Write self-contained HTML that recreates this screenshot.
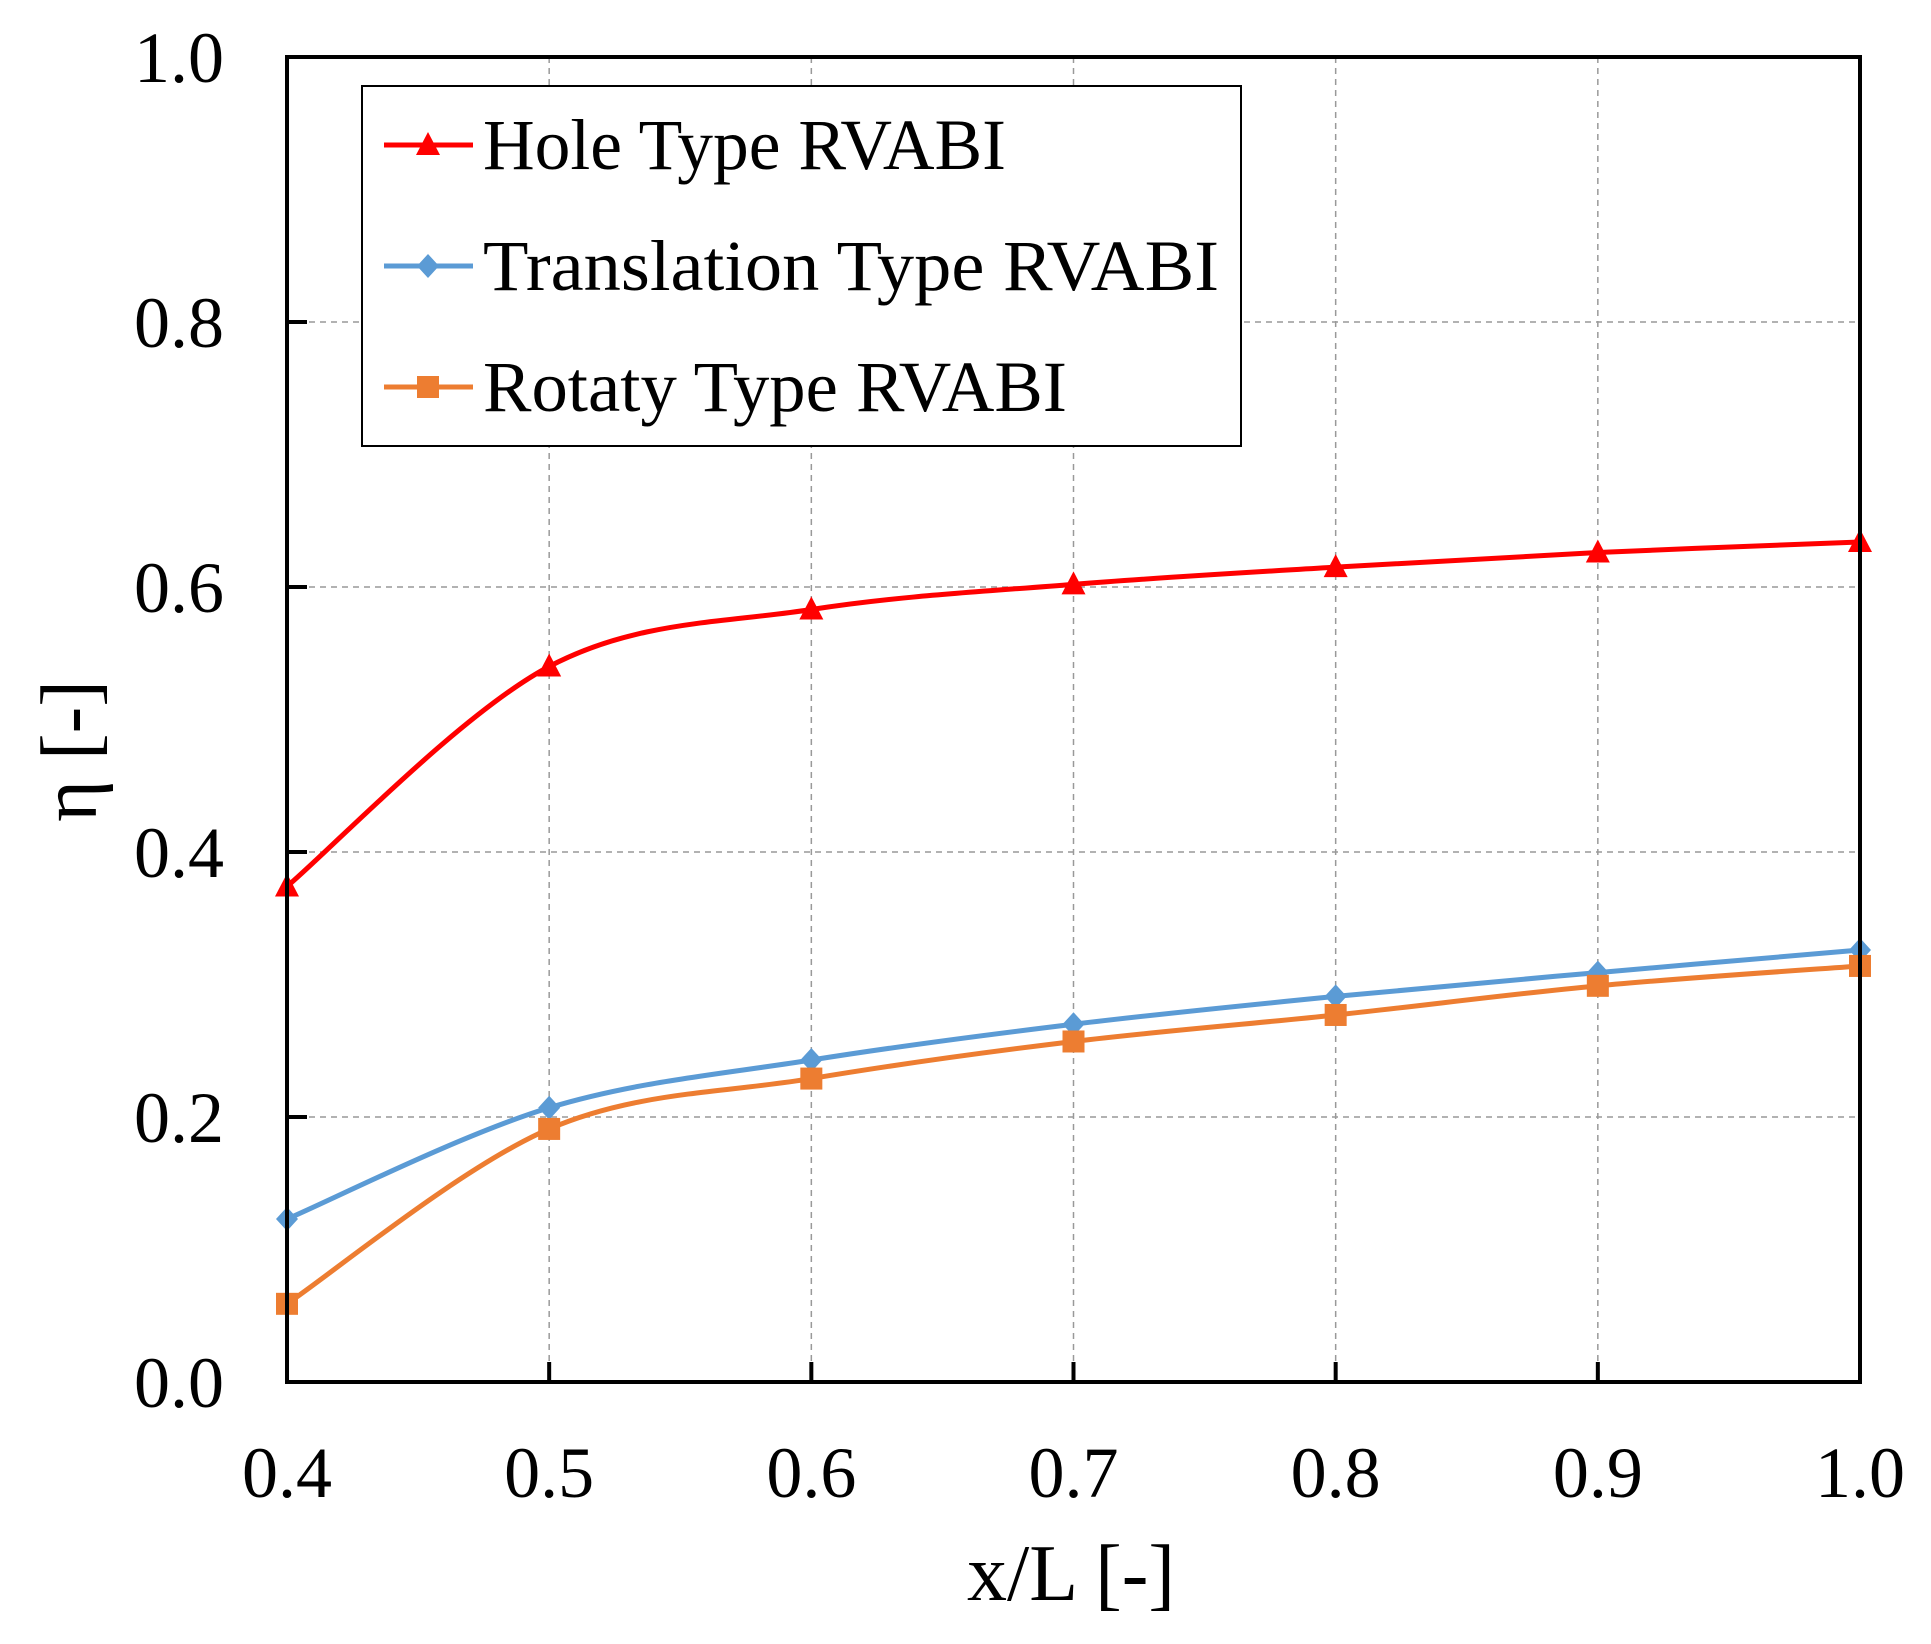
<!DOCTYPE html>
<html><head><meta charset="utf-8"><style>
html,body{margin:0;padding:0;background:#fff}
svg{display:block}
</style></head><body>
<svg id="chart" width="1931" height="1644" xmlns="http://www.w3.org/2000/svg">
<g id="grid"></g>
<g id="series"></g>
<rect x="287" y="57" width="1573" height="1325" fill="none" stroke="#000" stroke-width="4"/>
<g id="ticks"></g>
<text x="1071" y="1600" font-family="Liberation Serif, serif" font-size="80" text-anchor="middle">x/L [-]</text>
<text transform="translate(96,751) rotate(-90)" font-family="Liberation Serif, serif" font-size="80" text-anchor="middle">η [-]</text>
<g>
<rect x="362" y="86" width="879" height="360" fill="#fff" stroke="#000" stroke-width="2"/>
<g id="legend-items"></g>
</g>
</svg>
<script>
const xTicks = [0.4,0.5,0.6,0.7,0.8,0.9,1.0];
const xTickLabels = ["0.4","0.5","0.6","0.7","0.8","0.9","1.0"];
const yTicks = [0,0.2,0.4,0.6,0.8,1.0];
const yTickLabels = ["0.0","0.2","0.4","0.6","0.8","1.0"];
const xValues = [0.4,0.5,0.6,0.7,0.8,0.9,1.0];
const holeValues = [0.374,0.540,0.583,0.602,0.615,0.626,0.634];
const translationValues = [0.123,0.207,0.243,0.270,0.291,0.309,0.326];
const rotatyValues = [0.059,0.191,0.229,0.257,0.277,0.299,0.314];
const seriesNames = ["Hole Type RVABI","Translation Type RVABI","Rotaty Type RVABI"];

const NS="http://www.w3.org/2000/svg";
const L=287,R=1860,T=57,B=1382;
function sx(v){return L+(v-0.4)/(0.6)*(R-L);}
function sy(v){return B-v*(B-T);}
function mk(tag,attrs,parent){const e=document.createElementNS(NS,tag);for(const k in attrs)e.setAttribute(k,attrs[k]);parent.appendChild(e);return e;}
const grid=document.getElementById('grid'),ticks=document.getElementById('ticks'),ser=document.getElementById('series');
xTicks.forEach((v,i)=>{
  const x=sx(v);
  if(i>0&&i<xTicks.length-1){
    const g=mk('line',{x1:x,x2:x,y1:T,y2:B,stroke:'#999','stroke-width':1.5,'stroke-dasharray':'6,5'},grid);
    
    
  }
  const t=mk('line',{x1:x,x2:x,y1:B,y2:B-20,stroke:'#000','stroke-width':4},ticks);
  
  
  const lb=mk('text',{x:x,y:1497,'font-family':'Liberation Serif, serif','font-size':72,'text-anchor':'middle'},ticks);
  lb.textContent=xTickLabels[i];
  
  
});
yTicks.forEach((v,i)=>{
  const y=sy(v);
  if(i>0&&i<yTicks.length-1){
    const g=mk('line',{x1:L,x2:R,y1:y,y2:y,stroke:'#999','stroke-width':1.5,'stroke-dasharray':'6,5'},grid);
    
    
  }
  const t=mk('line',{x1:L,x2:L+20,y1:y,y2:y,stroke:'#000','stroke-width':4},ticks);
  
  
  const lb=mk('text',{x:224,y:y+25,'font-family':'Liberation Serif, serif','font-size':72,'text-anchor':'end'},ticks);
  lb.textContent=yTickLabels[i];
  
  
});
function spline(pts){
  let d=`M${pts[0][0]},${pts[0][1]}`;
  for(let i=0;i<pts.length-1;i++){
    const p0=pts[Math.max(0,i-1)],p1=pts[i],p2=pts[i+1],p3=pts[Math.min(pts.length-1,i+2)];
    const c1=[p1[0]+(p2[0]-p0[0])/6,p1[1]+(p2[1]-p0[1])/6];
    const c2=[p2[0]-(p3[0]-p1[0])/6,p2[1]-(p3[1]-p1[1])/6];
    d+=` C${c1[0]},${c1[1]} ${c2[0]},${c2[1]} ${p2[0]},${p2[1]}`;
  }
  return d;
}
function marker(kind,x,y,color,parent,name){
  let e;
  if(kind==='tri') e=mk('polygon',{points:`${x},${y-13} ${x-12},${y+10} ${x+12},${y+10}`,fill:color},parent);
  else if(kind==='dia') e=mk('polygon',{points:`${x},${y-12} ${x+11},${y} ${x},${y+12} ${x-11},${y}`,fill:color},parent);
  else e=mk('rect',{x:x-11,y:y-11,width:22,height:22,fill:color},parent);
  
  
}
const defs=[[holeValues,'#ff0000','tri','hole'],[translationValues,'#5b9bd5','dia','translation'],[rotatyValues,'#ed7d31','sq','rotaty']];
defs.forEach(([vals,color,kind,key])=>{
  const pts=xValues.map((x,i)=>[sx(x),sy(vals[i])]);
  const p=mk('path',{d:spline(pts),fill:'none',stroke:color,'stroke-width':5},ser);
  
  
  pts.forEach(q=>marker(kind,q[0],q[1],color,ser,key+'-point'));
});
const li=document.getElementById('legend-items');
const ly=[145,266,387];
const lw=[523,736,584];
defs.forEach(([vals,color,kind,key],i)=>{
  const y=ly[i];
  const l=mk('line',{x1:384,x2:473,y1:y,y2:y,stroke:color,'stroke-width':5},li);
  
  
  marker(kind,428,y,color,li,'legend-'+key+'-marker');
  const t=mk('text',{x:483,y:y+24,'font-family':'Liberation Serif, serif','font-size':72,textLength:lw[i],lengthAdjust:'spacingAndGlyphs'},li);
  t.textContent=seriesNames[i];
  
  
});
</script>
</body></html>
